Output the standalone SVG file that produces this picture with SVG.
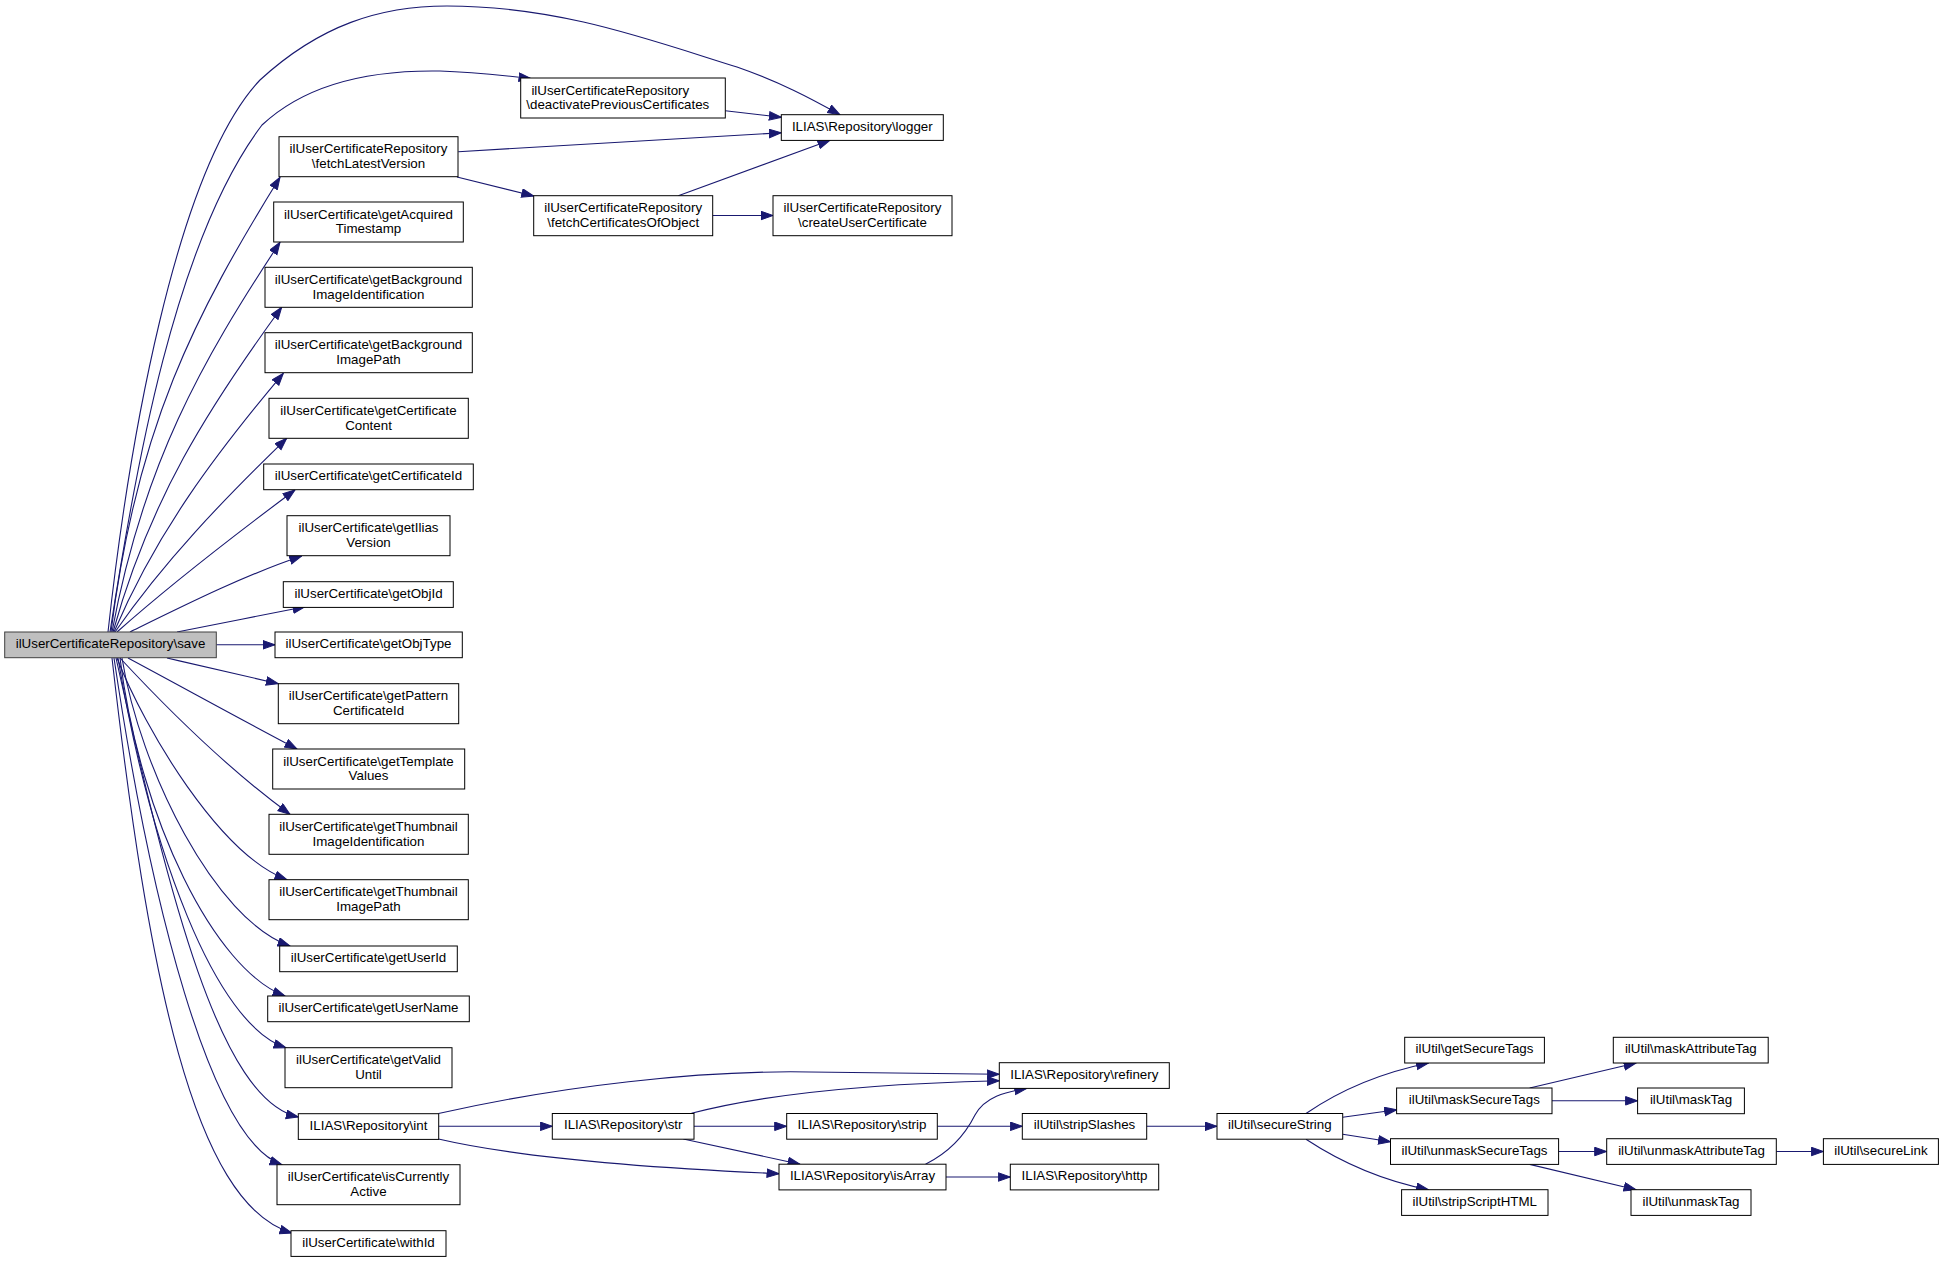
<svg xmlns="http://www.w3.org/2000/svg" width="1944" height="1262" viewBox="0 0 1944 1262">
<style>
.n rect{fill:#ffffff;stroke:#000000;stroke-width:1}
.n.root rect{fill:#bfbfbf;stroke:#404040}
.n text{font-family:"Liberation Sans",Arial,Helvetica,sans-serif;font-size:13.33px;fill:#000000;text-anchor:middle}
.e path{fill:none;stroke:#191970;stroke-width:1.1;marker-end:url(#ah)}
</style>
<defs>
<marker id="ah" markerUnits="userSpaceOnUse" markerWidth="13" markerHeight="10" refX="12.5" refY="4.75" orient="auto">
<path d="M0.5,0.5 L12.5,4.75 L0.5,9 z" fill="#191970" stroke="#191970" stroke-width="1"/>
</marker>
</defs>
<rect width="1944" height="1262" fill="#ffffff"/>
<g id="edges" class="e">
<path d="M108,632 C128,450 175,170 260,80 C320,25 380,6 447,6 C560,6 650,40 737,67 C780,82 810,98 840,114.7"/>
<path d="M110,632 C135,470 175,240 262,125 C310,80 380,70 440,71 C470,72 500,75 531,78.5"/>
<path d="M111,632 C136.4,427.4 195.5,313.7 280,177.3"/>
<path d="M112,632 C142.9,465.1 201.2,361.6 280,242.3"/>
<path d="M113,632 C149.7,499.8 207.7,408.7 281.7,307.3"/>
<path d="M114,632 C156.5,532.3 214.3,455.6 283.3,373.3"/>
<path d="M115,632 C163.9,561.5 221.9,501.2 286.7,438.3"/>
<path d="M117,632 C172.5,582.7 232.2,536.8 295,490"/>
<path d="M130,632 C185,605 245,575 301.7,556"/>
<path d="M177,632 C220,623.6 262,615 305,606.7"/>
<path d="M216.3,644.8 L275,644.8"/>
<path d="M167,658 C204,666.6 241,675 278.3,683.7"/>
<path d="M128,658 C184,688 240,719 297,749"/>
<path d="M120,658 C173,715 228,769 290,814.3"/>
<path d="M117,658 C145,730 220,855 287,879.7"/>
<path d="M122,658 C140,770 215,920 290,946"/>
<path d="M120,658 C140,820 215,970 285,996"/>
<path d="M118,658 C150,850 215,1025 286,1047.7"/>
<path d="M116,658 C170,900 220,1100 298.3,1117"/>
<path d="M114,658 C150,900 210,1140 282,1164.7"/>
<path d="M112,658 C148,974 193,1204 292,1233"/>
<path d="M458.3,151.7 L781.3,132.7"/>
<path d="M457,177 L533.7,196"/>
<path d="M725.3,110.7 L781.3,117.3"/>
<path d="M678.3,195.7 L830,140.3"/>
<path d="M712.7,215.5 L773,215.5"/>
<path d="M438.5,1113.5 C560,1086 700,1070 810,1072 C880,1073 950,1074 999.3,1074.3"/>
<path d="M438.7,1126.3 L552.3,1126.3"/>
<path d="M438.5,1139 C520,1158 650,1168 779,1173.7"/>
<path d="M691.5,1113.3 C780,1090 900,1083 999.3,1080.7"/>
<path d="M694,1126.3 L786.7,1126.3"/>
<path d="M683.3,1139 L800,1164.2"/>
<path d="M937.3,1126.3 L1022.3,1126.3"/>
<path d="M925.5,1164.2 C950,1152 965,1135 975,1115 C985,1097 1005,1092 1026.7,1088.4"/>
<path d="M946,1177 L1010.3,1177"/>
<path d="M1146.7,1126.3 L1217,1126.3"/>
<path d="M1306,1113.5 C1330,1097 1370,1075 1428.5,1063"/>
<path d="M1342.7,1117.3 L1396.6,1109.8"/>
<path d="M1342.7,1134.3 L1390.5,1141.8"/>
<path d="M1306,1139.2 C1330,1155 1370,1178 1428.5,1189.7"/>
<path d="M1529.7,1088 L1636,1063"/>
<path d="M1552,1100.8 L1637.6,1100.8"/>
<path d="M1558.6,1151.5 L1606.7,1151.5"/>
<path d="M1529.7,1164.4 L1636,1189.7"/>
<path d="M1776.3,1151.5 L1823.4,1151.5"/>
</g>
<g id="save" class="n root"><rect x="4.7" y="632" width="211.6" height="25.7"/><text x="110.5" y="647.7">ilUserCertificateRepository\save</text></g>
<g id="fetchLatestVersion" class="n"><rect x="279" y="136.7" width="179" height="40"/><text x="368.5" y="153.2">ilUserCertificateRepository</text><text x="368.5" y="167.9">\fetchLatestVersion</text></g>
<g id="getAcquiredTimestamp" class="n"><rect x="273.7" y="202" width="189.6" height="40"/><text x="368.5" y="218.5">ilUserCertificate\getAcquired</text><text x="368.5" y="233.2">Timestamp</text></g>
<g id="getBackgroundImageIdentification" class="n"><rect x="265" y="267.3" width="207.3" height="40"/><text x="368.5" y="283.8">ilUserCertificate\getBackground</text><text x="368.5" y="298.5">ImageIdentification</text></g>
<g id="getBackgroundImagePath" class="n"><rect x="265" y="332.7" width="207.3" height="40"/><text x="368.5" y="349.2">ilUserCertificate\getBackground</text><text x="368.5" y="363.9">ImagePath</text></g>
<g id="getCertificateContent" class="n"><rect x="269" y="398.3" width="199.3" height="40"/><text x="368.5" y="414.8">ilUserCertificate\getCertificate</text><text x="368.5" y="429.5">Content</text></g>
<g id="getCertificateId" class="n"><rect x="263.7" y="464" width="209.6" height="25.7"/><text x="368.5" y="479.8">ilUserCertificate\getCertificateId</text></g>
<g id="getIliasVersion" class="n"><rect x="287" y="515.7" width="163" height="40"/><text x="368.5" y="532.2">ilUserCertificate\getIlias</text><text x="368.5" y="546.9">Version</text></g>
<g id="getObjId" class="n"><rect x="283.3" y="581.7" width="170" height="25.7"/><text x="368.5" y="597.5">ilUserCertificate\getObjId</text></g>
<g id="getObjType" class="n"><rect x="275" y="632" width="187.3" height="25.7"/><text x="368.5" y="647.7">ilUserCertificate\getObjType</text></g>
<g id="getPatternCertificateId" class="n"><rect x="278.3" y="683.7" width="180.4" height="40"/><text x="368.5" y="700.2">ilUserCertificate\getPattern</text><text x="368.5" y="714.9">CertificateId</text></g>
<g id="getTemplateValues" class="n"><rect x="272.7" y="749" width="192" height="40"/><text x="368.5" y="765.5">ilUserCertificate\getTemplate</text><text x="368.5" y="780.2">Values</text></g>
<g id="getThumbnailImageIdentification" class="n"><rect x="269" y="814.3" width="199.3" height="40"/><text x="368.5" y="830.8">ilUserCertificate\getThumbnail</text><text x="368.5" y="845.5">ImageIdentification</text></g>
<g id="getThumbnailImagePath" class="n"><rect x="269" y="879.7" width="199.3" height="40"/><text x="368.5" y="896.2">ilUserCertificate\getThumbnail</text><text x="368.5" y="910.9">ImagePath</text></g>
<g id="getUserId" class="n"><rect x="279.7" y="946" width="177.6" height="25.7"/><text x="368.5" y="961.8">ilUserCertificate\getUserId</text></g>
<g id="getUserName" class="n"><rect x="267.7" y="996" width="201.6" height="25.7"/><text x="368.5" y="1011.8">ilUserCertificate\getUserName</text></g>
<g id="getValidUntil" class="n"><rect x="285" y="1047.7" width="167" height="40"/><text x="368.5" y="1064.2">ilUserCertificate\getValid</text><text x="368.5" y="1078.9">Until</text></g>
<g id="int" class="n"><rect x="298.3" y="1113.7" width="140.4" height="25.7"/><text x="368.5" y="1129.5">ILIAS\Repository\int</text></g>
<g id="isCurrentlyActive" class="n"><rect x="277" y="1164.7" width="183" height="40"/><text x="368.5" y="1181.2">ilUserCertificate\isCurrently</text><text x="368.5" y="1195.9">Active</text></g>
<g id="withId" class="n"><rect x="291" y="1230.7" width="155" height="25.7"/><text x="368.5" y="1246.5">ilUserCertificate\withId</text></g>
<g id="deactivatePreviousCertificates" class="n"><rect x="520.7" y="78" width="204.6" height="40"/><text x="610.3" y="94.5">ilUserCertificateRepository</text><text x="617.8" y="109.2">\deactivatePreviousCertificates</text></g>
<g id="logger" class="n"><rect x="781.3" y="114.7" width="162" height="25.7"/><text x="862.3" y="130.5">ILIAS\Repository\logger</text></g>
<g id="fetchCertificatesOfObject" class="n"><rect x="533.7" y="195.7" width="179" height="40"/><text x="623.2" y="212.2">ilUserCertificateRepository</text><text x="623.2" y="226.9">\fetchCertificatesOfObject</text></g>
<g id="createUserCertificate" class="n"><rect x="773" y="195.7" width="179" height="40"/><text x="862.5" y="212.2">ilUserCertificateRepository</text><text x="862.5" y="226.9">\createUserCertificate</text></g>
<g id="refinery" class="n"><rect x="999.3" y="1062.7" width="170" height="25.7"/><text x="1084.3" y="1078.5">ILIAS\Repository\refinery</text></g>
<g id="str" class="n"><rect x="552.3" y="1113.5" width="141.7" height="25.7"/><text x="623.2" y="1129.3">ILIAS\Repository\str</text></g>
<g id="strip" class="n"><rect x="786.7" y="1113.5" width="150.6" height="25.7"/><text x="862" y="1129.3">ILIAS\Repository\strip</text></g>
<g id="isArray" class="n"><rect x="779" y="1164.2" width="167" height="25.7"/><text x="862.5" y="1180">ILIAS\Repository\isArray</text></g>
<g id="stripSlashes" class="n"><rect x="1022.3" y="1113.5" width="124.4" height="25.7"/><text x="1084.5" y="1129.3">ilUtil\stripSlashes</text></g>
<g id="http" class="n"><rect x="1010.3" y="1164.2" width="148.4" height="25.7"/><text x="1084.5" y="1180">ILIAS\Repository\http</text></g>
<g id="secureString" class="n"><rect x="1217" y="1113.5" width="125.7" height="25.7"/><text x="1279.8" y="1129.3">ilUtil\secureString</text></g>
<g id="getSecureTags" class="n"><rect x="1404.7" y="1037.3" width="139.7" height="25.7"/><text x="1474.5" y="1053.1">ilUtil\getSecureTags</text></g>
<g id="maskSecureTags" class="n"><rect x="1396.6" y="1088" width="155.4" height="25.7"/><text x="1474.3" y="1103.8">ilUtil\maskSecureTags</text></g>
<g id="unmaskSecureTags" class="n"><rect x="1390.5" y="1138.7" width="168.1" height="25.7"/><text x="1474.5" y="1154.5">ilUtil\unmaskSecureTags</text></g>
<g id="stripScriptHTML" class="n"><rect x="1401.6" y="1189.7" width="146.4" height="25.7"/><text x="1474.8" y="1205.5">ilUtil\stripScriptHTML</text></g>
<g id="maskAttributeTag" class="n"><rect x="1613.3" y="1037.3" width="154.9" height="25.7"/><text x="1690.8" y="1053.1">ilUtil\maskAttributeTag</text></g>
<g id="maskTag" class="n"><rect x="1637.6" y="1088" width="106.8" height="25.7"/><text x="1691" y="1103.8">ilUtil\maskTag</text></g>
<g id="unmaskAttributeTag" class="n"><rect x="1606.7" y="1138.7" width="169.6" height="25.7"/><text x="1691.5" y="1154.5">ilUtil\unmaskAttributeTag</text></g>
<g id="unmaskTag" class="n"><rect x="1631" y="1189.7" width="120" height="25.7"/><text x="1691" y="1205.5">ilUtil\unmaskTag</text></g>
<g id="secureLink" class="n"><rect x="1823.4" y="1138.7" width="115" height="25.7"/><text x="1880.9" y="1154.5">ilUtil\secureLink</text></g>
</svg>
